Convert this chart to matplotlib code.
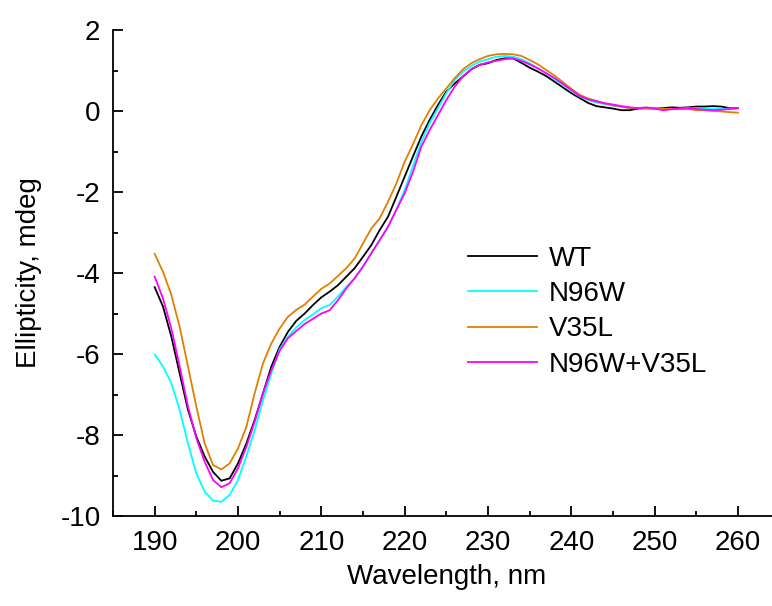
import numpy as np
import matplotlib.pyplot as plt
from matplotlib.ticker import MultipleLocator

# CD spectra, 190-260 nm, 1 nm step
wavelength = np.arange(190, 261, 1)

wt = [-4.35, -4.83, -5.57, -6.48, -7.38, -8.04, -8.53, -8.91, -9.13, -9.07,
      -8.70, -8.21, -7.63, -6.97, -6.31, -5.82, -5.45, -5.18, -5.00, -4.79,
      -4.60, -4.46, -4.30, -4.09, -3.88, -3.60, -3.31, -2.94, -2.61, -2.12,
      -1.62, -1.12, -0.63, -0.22, 0.15, 0.48, 0.68, 0.85, 1.03, 1.14,
      1.18, 1.26, 1.30, 1.30, 1.19, 1.07, 0.97, 0.86, 0.72, 0.58,
      0.44, 0.32, 0.20, 0.12, 0.09, 0.06, 0.02, 0.02, 0.06, 0.07,
      0.06, 0.07, 0.09, 0.08, 0.09, 0.11, 0.11, 0.12, 0.11, 0.07, 0.07]

n96w = [-6.01, -6.31, -6.72, -7.38, -8.21, -8.95, -9.40, -9.62, -9.65, -9.48,
        -9.11, -8.53, -7.88, -7.14, -6.48, -5.88, -5.57, -5.34, -5.16, -5.02,
        -4.87, -4.79, -4.58, -4.34, -4.13, -3.84, -3.51, -3.19, -2.86, -2.44,
        -1.95, -1.35, -0.76, -0.30, 0.07, 0.44, 0.77, 0.97, 1.11, 1.22,
        1.28, 1.34, 1.36, 1.34, 1.28, 1.18, 1.05, 0.93, 0.78, 0.64,
        0.50, 0.36, 0.27, 0.21, 0.17, 0.13, 0.10, 0.08, 0.07, 0.07,
        0.06, 0.05, 0.05, 0.06, 0.07, 0.06, 0.05, 0.05, 0.05, 0.06, 0.06]

v35l = [-3.53, -3.97, -4.54, -5.33, -6.31, -7.30, -8.21, -8.74, -8.85, -8.70,
        -8.33, -7.80, -6.97, -6.23, -5.74, -5.37, -5.08, -4.91, -4.78, -4.58,
        -4.39, -4.26, -4.07, -3.88, -3.64, -3.27, -2.90, -2.65, -2.24, -1.79,
        -1.25, -0.82, -0.35, 0.02, 0.31, 0.56, 0.81, 1.03, 1.18, 1.28,
        1.36, 1.40, 1.41, 1.40, 1.36, 1.26, 1.15, 1.01, 0.87, 0.71,
        0.55, 0.40, 0.31, 0.25, 0.19, 0.14, 0.11, 0.07, 0.07, 0.06,
        0.06, 0.05, 0.05, 0.05, 0.05, 0.02, 0.02, 0.00, -0.01, -0.03, -0.04]

n96w_v35l = [-4.09, -4.63, -5.37, -6.31, -7.30, -8.08, -8.66, -9.11, -9.29, -9.19,
             -8.82, -8.29, -7.67, -6.97, -6.40, -5.92, -5.61, -5.43, -5.26, -5.13,
             -5.00, -4.92, -4.67, -4.38, -4.13, -3.84, -3.51, -3.19, -2.86, -2.44,
             -2.03, -1.50, -0.88, -0.47, -0.10, 0.27, 0.60, 0.86, 1.03, 1.14,
             1.20, 1.24, 1.28, 1.30, 1.24, 1.15, 1.05, 0.93, 0.81, 0.67,
             0.52, 0.37, 0.29, 0.24, 0.19, 0.16, 0.12, 0.09, 0.07, 0.09,
             0.06, 0.02, 0.04, 0.06, 0.07, 0.05, 0.03, 0.02, 0.03, 0.05, 0.07]

labels = ["WT", "N96W", "V35L", "N96W+V35L"]
colors = ["black", "#00FFFF", "#E08000", "#FF00FF"]

plt.rcParams["font.family"] = ["Liberation Sans", "DejaVu Sans"]
plt.rcParams["axes.unicode_minus"] = False

fig = plt.figure(figsize=(7.72, 6.06), dpi=100)
ax = fig.add_axes([113 / 772, 90 / 606, 666.7 / 772, 486 / 606])

for series, lab, col in zip([wt, n96w, v35l, n96w_v35l], labels, colors):
    ax.plot(wavelength, series, color=col, lw=1.3, label=lab)

ax.set_xlim(185, 265)
ax.set_ylim(-10, 2)
ax.xaxis.set_major_locator(MultipleLocator(10))
ax.xaxis.set_minor_locator(MultipleLocator(5))
ax.yaxis.set_major_locator(MultipleLocator(2))
ax.yaxis.set_minor_locator(MultipleLocator(1))

for side in ("top", "right"):
    ax.spines[side].set_visible(False)
for side in ("left", "bottom"):
    ax.spines[side].set_linewidth(1.3)

ax.tick_params(which="both", direction="in", width=1.3, labelsize=20)
ax.tick_params(which="major", length=7.5)
ax.tick_params(which="minor", length=3.8)
ax.tick_params(axis="x", pad=10)
ax.tick_params(axis="y", pad=9)

ax.set_xlabel("Wavelength, nm", fontsize=20, labelpad=6)
ax.set_ylabel("Ellipticity, mdeg", fontsize=20, labelpad=13)

ax.legend(loc="upper left", bbox_to_anchor=(468 / 772, 1 - 246 / 606),
          bbox_transform=fig.transFigure, frameon=False, fontsize=20,
          handlelength=2.5, handletextpad=0.4, labelspacing=0.33,
          borderpad=0, borderaxespad=0)

fig.savefig("out.png", dpi=100)
